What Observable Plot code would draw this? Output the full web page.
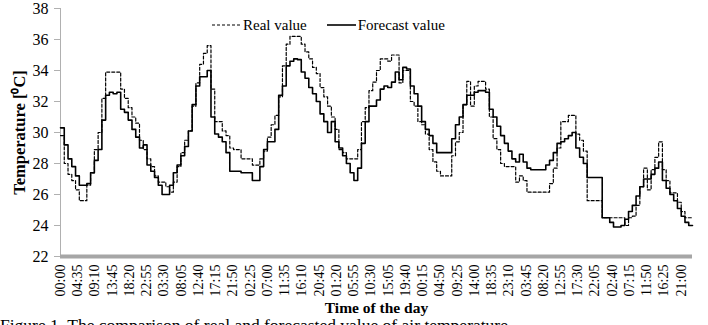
<!DOCTYPE html>
<html><head><meta charset="utf-8">
<script src="https://cdn.jsdelivr.net/npm/d3@7"></script>
<script src="https://cdn.jsdelivr.net/npm/@observablehq/plot@0.6"></script>
<style>
body{margin:0;background:#fff;}
#wrap{position:relative;width:708px;height:325px;overflow:hidden;font-family:"Liberation Serif","Times New Roman",serif;color:#000;}
#legend{position:absolute;left:212px;top:16px;display:flex;align-items:center;font-size:15px;line-height:18px;white-space:nowrap;}
#legend svg{display:block;margin-right:2px;}
#caption{position:absolute;left:0;top:315px;font-size:17.5px;white-space:nowrap;}
g[aria-label="y-axis label"] text{font-weight:bold;font-size:16.5px;}
g[aria-label="x-axis label"] text{font-weight:bold;font-size:15.5px;}
</style></head>
<body>
<div id="wrap">
  <div id="chart"></div>
  <div id="legend"></div>
  <div id="caption"></div>
</div>
<script>
// Hourly temperatures (°C), 7 days
const realValue = [
  29.8, 28.0, 27.3, 26.9, 26.3, 25.6, 25.6, 26.6, 27.4, 28.9, 30.0, 32.2, 33.9, 33.9, 33.9, 33.9, 32.8, 32.2, 31.6, 31.0, 30.6, 29.5, 28.9, 28.3,
  27.8, 27.2, 26.8, 26.8, 26.5, 26.15, 26.8, 27.8, 28.7, 29.5, 30.1, 31.7, 33.2, 34.4, 35.1, 35.6, 32.8, 30.7, 30.7, 30.1, 29.8, 29.0, 28.9, 28.9,
  28.3, 28.3, 28.3, 27.9, 27.9, 28.3, 28.8, 29.7, 30.5, 31.1, 32.3, 34.3, 35.7, 36.2, 36.2, 36.2, 35.7, 35.2, 34.75, 34.2, 33.8, 32.9, 32.3, 31.7,
  31.0, 30.2, 28.9, 28.7, 28.3, 28.3, 28.3, 28.9, 30.7, 31.6, 32.7, 33.25, 34.0, 34.75, 34.75, 34.6, 35.0, 35.0, 33.2, 34.0, 34.0, 32.0, 31.7, 30.7,
  30.5, 29.9, 28.9, 28.1, 27.5, 27.2, 27.2, 27.2, 28.5, 29.4, 30.0, 31.8, 33.3, 31.7, 33.0, 33.3, 33.3, 32.8, 31.0, 29.6, 28.9, 28.0, 27.8, 27.8,
  27.8, 26.8, 27.2, 26.9, 26.15, 26.15, 26.15, 26.15, 26.15, 26.15, 26.7, 27.7, 29.0, 30.7, 30.7, 31.1, 31.1, 29.9, 29.5, 28.8, 25.6, 25.6, 25.6, 25.6,
  24.5, 24.5, 24.5, 24.5, 24.5, 24.5, 24.0, 24.5, 24.6, 25.3, 26.5, 27.7, 26.3, 27.6, 28.4, 29.4, 27.6, 26.9, 26.1, 26.1, 25.5, 24.9, 24.5, 24.5
];
const forecastValue = [
  30.3, 29.2, 28.3, 27.8, 27.2, 26.6, 26.6, 26.7, 27.4, 28.2, 28.9, 30.8, 32.4, 32.6, 32.5, 32.6, 31.5, 31.3, 30.8, 30.2, 29.7, 29.0, 29.2, 27.9,
  27.5, 27.1, 26.6, 26.0, 26.0, 26.6, 27.4, 27.9, 28.5, 29.1, 30.1, 31.8, 33.0, 33.6, 33.6, 34.0, 31.0, 29.9, 29.7, 29.4, 28.7, 27.5, 27.5, 27.5,
  27.4, 27.4, 27.4, 26.9, 26.9, 27.8, 28.9, 29.4, 29.4, 30.2, 32.4, 33.0, 34.3, 34.6, 34.75, 34.7, 33.9, 33.5, 32.9, 32.5, 32.0, 31.2, 30.7, 30.0,
  30.7, 29.4, 29.0, 28.5, 28.0, 27.4, 26.9, 27.7, 29.3, 30.7, 31.7, 31.7, 32.1, 32.8, 33.0, 32.9, 33.25, 33.9, 33.4, 34.2, 34.1, 33.0, 32.5, 31.7,
  30.7, 30.2, 29.8, 29.3, 28.7, 28.7, 28.7, 28.7, 29.6, 30.5, 31.0, 31.8, 32.4, 32.4, 32.6, 32.7, 32.7, 32.6, 31.5, 31.0, 30.4, 29.8, 29.3, 28.8,
  28.3, 28.1, 28.6, 28.1, 27.7, 27.6, 27.6, 27.6, 27.6, 27.9, 28.2, 28.7, 29.3, 29.4, 29.6, 29.8, 30.0, 29.0, 28.4, 28.0, 27.1, 27.1, 27.1, 27.1,
  24.5, 24.5, 24.2, 23.9, 23.9, 24.0, 24.4, 24.9, 25.3, 25.9, 26.5, 27.0, 27.0, 27.3, 27.7, 28.1, 26.9, 26.4, 26.0, 25.6, 25.1, 24.6, 24.2, 24.0
];
const tickLabels = ["00:00","04:35","09:10","13:45","18:20","22:55","03:30","08:05","12:40","17:15","21:50","02:25","07:00","11:35","16:10","20:45","01:20","05:55","10:30","15:05","19:40","00:15","04:50","09:25","14:00","18:35","23:10","03:45","08:20","12:55","17:30","22:05","02:40","07:15","11:50","16:25","21:00"];
const tickStepMinutes = 275;
const yTicks = [22, 24, 26, 28, 30, 32, 34, 36, 38];
const seriesNames = ["Real value", "Forecast value"];
const captionText = "Figure 1. The comparison of real and forecasted value of air temperature";

// step data: each hourly value holds until the next hour
function toSteps(arr) {
  const rows = arr.map((v, i) => ({h: i, v}));
  rows.push({h: arr.length, v: arr[arr.length - 1]});
  return rows;
}
const realRows = toSteps(realValue);
const fcRows = toSteps(forecastValue);
const tickHours = tickLabels.map((_, i) => i * tickStepMinutes / 60);

const font = '"Liberation Serif","Times New Roman",serif';
const chart = Plot.plot({
  width: 708,
  height: 325,
  marginLeft: 60,
  marginRight: 16,
  marginTop: 8,
  marginBottom: 69,
  style: {fontFamily: font, fontSize: "15px", background: "#fff", color: "#000"},
  x: {domain: [0, realValue.length]},
  y: {domain: [22, 38]},
  marks: [
    Plot.ruleX([0], {stroke: "#b0b0b0", strokeWidth: 1}),
    Plot.axisY(yTicks, {tickSize: 6, tickPadding: 6, stroke: "#b0b0b0", fill: "#000", fontSize: 16,
      label: "Temperature [⁰C]", labelAnchor: "center", labelArrow: "none", labelOffset: 47}),
    Plot.axisX(tickHours, {tickSize: 0, tickPadding: 8, tickRotate: -90, fontSize: 14,
      tickFormat: d => tickLabels[Math.round(d * 60 / tickStepMinutes)],
      label: "Time of the day", labelAnchor: "center", labelArrow: "none", labelOffset: 56}),
    Plot.ruleY([22], {stroke: "#a6a6a6", strokeWidth: 4}),
    Plot.line(realRows, {x: "h", y: "v", curve: "step-after", stroke: "#000", strokeWidth: 1.2, strokeDasharray: "3,2"}),
    Plot.line(fcRows, {x: "h", y: "v", curve: "step-after", stroke: "#000", strokeWidth: 1.6})
  ]
});
document.getElementById("chart").appendChild(chart);

// legend
const legend = document.getElementById("legend");
seriesNames.forEach((name, i) => {
  const item = document.createElement("div");
  item.style.display = "flex";
  item.style.alignItems = "center";
  item.style.marginRight = i === 0 ? "20px" : "0";
  const svg = d3.create("svg").attr("width", 29).attr("height", 10);
  svg.append("line").attr("x1", 0).attr("x2", 29).attr("y1", 5).attr("y2", 5)
    .attr("stroke", "#000").attr("stroke-width", i === 0 ? 1.2 : 1.6)
    .attr("stroke-dasharray", i === 0 ? "3,2" : null);
  item.appendChild(svg.node());
  const t = document.createElement("span");
  t.textContent = name;
  item.appendChild(t);
  legend.appendChild(item);
});
document.getElementById("caption").textContent = captionText;
</script>
</body></html>
